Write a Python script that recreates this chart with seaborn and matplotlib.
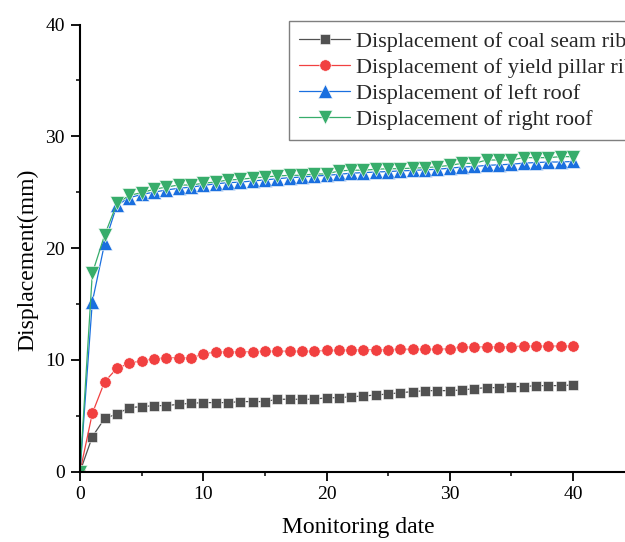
import numpy as np
import pandas as pd
import matplotlib
matplotlib.use("Agg")
import matplotlib.pyplot as plt
import seaborn as sns
from matplotlib.ticker import MultipleLocator

# Monitoring days
days = list(range(0, 41))

# Displacement readings (mm)
coal_seam_rib = [0, 3.13, 4.77, 5.16, 5.73, 5.82, 5.91, 5.91, 6.03, 6.12,
                 6.18, 6.18, 6.18, 6.27, 6.27, 6.27, 6.48, 6.48, 6.48, 6.48,
                 6.62, 6.62, 6.71, 6.77, 6.86, 6.95, 7.07, 7.16, 7.25, 7.25,
                 7.25, 7.31, 7.43, 7.52, 7.52, 7.61, 7.61, 7.70, 7.70, 7.70,
                 7.76]
yield_pillar_rib = [0, 5.22, 8.05, 9.25, 9.69, 9.93, 10.08, 10.2, 10.2, 10.2,
                    10.5, 10.73, 10.73, 10.73, 10.73, 10.78, 10.78, 10.78, 10.78, 10.78,
                    10.85, 10.85, 10.9, 10.92, 10.92, 10.92, 10.95, 10.95, 10.95, 10.95,
                    11.0, 11.15, 11.15, 11.18, 11.18, 11.18, 11.24, 11.24, 11.24, 11.24,
                    11.25]
left_roof = [0, 15.2, 20.43, 23.85, 24.5, 24.8, 25.0, 25.2, 25.35, 25.45,
             25.6, 25.75, 25.85, 25.9, 26.0, 26.1, 26.2, 26.3, 26.35, 26.45,
             26.5, 26.6, 26.7, 26.75, 26.8, 26.85, 26.9, 26.95, 27.0, 27.05,
             27.15, 27.25, 27.3, 27.4, 27.45, 27.5, 27.6, 27.65, 27.7, 27.7,
             27.75]
right_roof = [0, 17.75, 21.17, 24.0, 24.72, 24.96, 25.26, 25.46, 25.64, 25.64,
              25.8, 25.91, 26.09, 26.15, 26.27, 26.36, 26.45, 26.51, 26.51, 26.63,
              26.63, 26.9, 26.97, 26.97, 27.05, 27.1, 27.1, 27.16, 27.19, 27.28,
              27.4, 27.58, 27.58, 27.88, 27.88, 27.88, 28.09, 28.09, 28.09, 28.18,
              28.18]

labels = ["Displacement of coal seam rib",
          "Displacement of yield pillar rib",
          "Displacement of left roof",
          "Displacement of right roof"]
colors = ["#515151", "#F14040", "#1A6FDF", "#37AD6B"]
markers = ["s", "o", "^", "v"]
msizes = [7.2, 8.2, 9.4, 9.4]

sns.set_style("ticks")
plt.rcParams["font.family"] = ["Liberation Serif", "DejaVu Serif"]

W, H = 625, 542
fig = plt.figure(figsize=(W / 100, H / 100), dpi=100)
ax = fig.add_axes([80 / W, 70.3 / H, 45 * 12.325 / W, (517.5 - 70.3) / H])

series = [coal_seam_rib, yield_pillar_rib, left_roof, right_roof]
for vals, lab, col, mk, ms in zip(series, labels, colors, markers, msizes):
    df = pd.DataFrame({"day": days, "disp": vals})
    sns.lineplot(data=df, x="day", y="disp", ax=ax, color=col, label=lab,
                 marker=mk, markersize=ms, markeredgecolor="white",
                 markeredgewidth=0.4, linewidth=0.9)

ax.set_xlim(0, 45)
ax.set_ylim(0, 40)
ax.xaxis.set_major_locator(MultipleLocator(10))
ax.xaxis.set_minor_locator(MultipleLocator(5))
ax.yaxis.set_major_locator(MultipleLocator(10))
ax.yaxis.set_minor_locator(MultipleLocator(5))
ax.tick_params(which="major", direction="out", length=6.5, width=1.3,
               labelsize=14, pad=3.5, color="black", labelcolor="black")
ax.tick_params(which="minor", direction="out", length=3, width=1.1, color="black")
ax.tick_params(axis="y", which="major", pad=4.5)

for side in ["top", "right"]:
    ax.spines[side].set_visible(False)
for side in ["left", "bottom"]:
    ax.spines[side].set_linewidth(1.5)
    ax.spines[side].set_color("black")

ax.set_xlabel("Monitoring date", fontsize=17, color="black")
ax.set_ylabel("Displacement(mm)", fontsize=17, color="black")
ax.xaxis.set_label_coords(358 / W, 1 - 517 / H, transform=fig.transFigure)
ax.yaxis.set_label_coords(38 / W, 1 - 260 / H, transform=fig.transFigure)

leg = ax.legend(loc="upper left", bbox_to_anchor=(289 / W, 1 - 21 / H),
                bbox_transform=fig.transFigure, borderaxespad=0,
                fontsize=16, frameon=True, fancybox=False, framealpha=1,
                edgecolor="#7f7f7f", borderpad=0.45, labelspacing=0.25,
                handlelength=2.3, handletextpad=0.25)
leg.get_frame().set_linewidth(1.0)

fig.savefig("out.png", dpi=100)
